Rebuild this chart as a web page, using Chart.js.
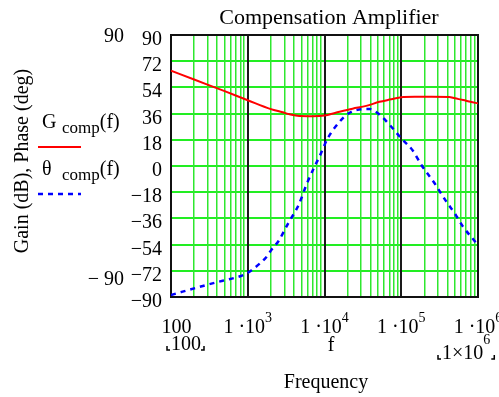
<!DOCTYPE html>
<html>
<head>
<meta charset="utf-8">
<title>Compensation Amplifier</title>
<script src="https://cdn.jsdelivr.net/npm/chart.js@4.4.0/dist/chart.umd.min.js"></script>
<style>
  html, body { margin: 0; padding: 0; background: #fff; }
  #wrap { width: 499px; height: 397px; }
</style>
</head>
<body>
<div id="wrap"><canvas id="chart" width="499" height="397"></canvas></div>
<script>
// gain of the compensation network, dB
const gainFreq = [100, 200, 500, 1000, 2000, 2850, 3500, 4700, 7000, 10000, 15700, 23200, 35000, 52000, 74000, 100000, 150000, 250000, 420000, 500000, 640000, 800000, 1000000]
const gainDb   = [65.5, 59.4, 51.4, 45.2, 39.1, 36.9, 35.5, 34.3, 34.2, 34.7, 37.3, 39.4, 41.3, 44.1, 45.8, 47.3, 47.5, 47.5, 47.4, 46.5, 45.3, 44.1, 43.0]

// phase of the compensation network, degrees
const phaseFreq = [100, 260, 473, 838, 1090, 1430, 1740, 2060, 2520, 3400, 4600, 5800, 7400, 8600, 11000, 15700, 19200, 26000, 38700, 49700, 70700, 100000, 142000, 183000, 272000, 387000, 497000, 638000, 950000, 1000000]
const phaseDeg  = [-88.6, -82.4, -78.8, -75.3, -72.1, -67.1, -62.7, -57.2, -51.5, -38.9, -26.8, -13.0, -0.5, 6.4, 19.0, 30.4, 35.0, 38.5, 39.1, 36.2, 28.2, 19.0, 10.5, 0.7, -11.9, -24.5, -32.5, -41.7, -53.1, -55.0]

const yTicks = [90, 72, 54, 36, 18, 0, -18, -36, -54, -72, -90]
const decades = [100, 1e3, 1e4, 1e5, 1e6]

const serif = '"Liberation Serif", "Times New Roman", serif'
const red = '#ff0000'
const blue = '#0000ff'

function minus(v) {
    return v < 0 ? '\u2212' + Math.abs(v) : String(v)
}

function isDecade(v) {
    return decades.indexOf(v) >= 0
}

// 1,2,...,9 per decade for the log grid
function logGrid() {
    const out = []
    for (let i = 0; i < decades.length - 1; i++) {
        for (let m = 1; m < 10; m++) out.push({ value: m * decades[i] })
    }
    out.push({ value: decades[decades.length - 1] })
    return out
}

function points(xs, ys) {
    return xs.map((x, i) => ({ x: x, y: ys[i] }))
}

// small corner marks around the range limits
function corner(ctx, x, y, left) {
    ctx.save()
    ctx.strokeStyle = '#000'
    ctx.lineWidth = 1.5
    ctx.beginPath()
    ctx.moveTo(x, y - 4)
    ctx.lineTo(x, y)
    ctx.lineTo(left ? x + 3 : x - 3, y)
    ctx.stroke()
    ctx.restore()
}

// "1·10" with a raised exponent, centred on cx
function powLabel(ctx, cx, base, exp) {
    ctx.font = '20px ' + serif
    const main = '1 \u00b710'
    const w1 = ctx.measureText(main).width
    ctx.font = '14px ' + serif
    const w2 = ctx.measureText(exp).width
    const x0 = cx - (w1 + w2) / 2
    ctx.font = '20px ' + serif
    ctx.fillText(main, x0, base)
    ctx.font = '14px ' + serif
    ctx.fillText(exp, x0 + w1, base - 11)
}

const framePlugin = {
    id: 'frame',
    beforeDatasetsDraw(chart) {
        const a = chart.chartArea
        const ctx = chart.ctx
        ctx.save()
        ctx.strokeStyle = '#111'
        ctx.lineWidth = 2
        ctx.strokeRect(a.left, a.top, a.right - a.left, a.bottom - a.top)
        ctx.restore()
    },
    afterDraw(chart) {
        const ctx = chart.ctx
        const xs = chart.scales.x
        const ys = chart.scales.y
        const a = chart.chartArea
        ctx.save()
        ctx.fillStyle = '#000'
        ctx.textBaseline = 'alphabetic'

        // title
        ctx.font = '22px ' + serif
        ctx.textAlign = 'center'
        ctx.fillText('Compensation Amplifier', 329, 24)

        // y tick labels
        ctx.font = '20px ' + serif
        ctx.textAlign = 'right'
        yTicks.forEach(v => {
            ctx.fillText(minus(v), 162, ys.getPixelForValue(v) + 10)
        })
        // axis limits
        ctx.fillText('90', 124, ys.getPixelForValue(90) + 7)
        ctx.fillText('\u2212 90', 124, ys.getPixelForValue(-90) - 12)

        // x tick labels
        ctx.textAlign = 'left'
        ctx.font = '20px ' + serif
        const w100 = ctx.measureText('100').width
        ctx.fillText('100', xs.getPixelForValue(100) + 5.5 - w100 / 2, 333)
        decades.slice(1).forEach(d => {
            powLabel(ctx, xs.getPixelForValue(d), 333, String(Math.round(Math.log10(d))))
        })

        // range limits and variable name
        ctx.font = '20px ' + serif
        const lo = a.left - 4
        corner(ctx, lo, 350, true)
        ctx.fillText('100', lo + 4, 350)
        corner(ctx, lo + 7 + w100, 350, false)

        ctx.textAlign = 'center'
        ctx.fillText('f', 331, 351)

        ctx.textAlign = 'left'
        const hi = 438
        corner(ctx, hi, 359, true)
        ctx.fillText('1\u00d710', hi + 4, 359)
        const wm = ctx.measureText('1\u00d710').width
        ctx.font = '14px ' + serif
        ctx.fillText('6', hi + 4 + wm, 344)
        const we = ctx.measureText('6').width
        corner(ctx, hi + 8 + wm + we, 359, false)

        ctx.font = '20px ' + serif
        ctx.textAlign = 'center'
        ctx.fillText('Frequency', 326, 388)

        // y axis title
        ctx.save()
        ctx.translate(28, 161)
        ctx.rotate(-Math.PI / 2)
        ctx.fillText('Gain (dB), Phase (deg)', 0, 0)
        ctx.restore()

        // legend
        ctx.textAlign = 'left'
        const entries = [
            { sym: 'G', y: 128, ds: chart.data.datasets[0] },
            { sym: '\u03b8', y: 175, ds: chart.data.datasets[1] }
        ]
        entries.forEach(e => {
            ctx.font = '20px ' + serif
            ctx.fillText(e.sym, 42, e.y)
            ctx.font = '17px ' + serif
            ctx.fillText('comp', 62, e.y + 5)
            const wc = ctx.measureText('comp').width
            ctx.font = '20px ' + serif
            ctx.fillText('(f)', 62 + wc, e.y)

            ctx.save()
            ctx.strokeStyle = e.ds.borderColor
            ctx.lineWidth = e.ds.borderWidth
            ctx.setLineDash(e.ds.borderDash || [])
            ctx.beginPath()
            ctx.moveTo(38, e.y + 19)
            ctx.lineTo(81, e.y + 19)
            ctx.stroke()
            ctx.restore()
        })
        ctx.restore()
    }
}

const chart = new Chart(document.getElementById('chart'), {
    type: 'line',
    data: {
        datasets: [
            {
                label: 'G comp(f)',
                data: points(gainFreq, gainDb),
                borderColor: red,
                borderWidth: 2,
                pointRadius: 0,
                cubicInterpolationMode: 'monotone'
            },
            {
                label: '\u03b8 comp(f)',
                data: points(phaseFreq, phaseDeg),
                borderColor: blue,
                borderWidth: 2.5,
                borderDash: [5, 5],
                pointRadius: 0,
                cubicInterpolationMode: 'monotone'
            }
        ]
    },
    options: {
        responsive: false,
        animation: false,
        layout: { padding: { left: 171, right: 21, top: 35, bottom: 100 } },
        plugins: {
            legend: { display: false },
            tooltip: { enabled: false },
            title: { display: false }
        },
        scales: {
            x: {
                type: 'logarithmic',
                min: 100,
                max: 1e6,
                afterBuildTicks: (scale) => { scale.ticks = logGrid() },
                ticks: { display: false },
                border: { display: false },
                grid: {
                    drawTicks: false,
                    color: (c) => isDecade(c.tick.value) ? '#1a1a1a' : '#2ee82e',
                    lineWidth: (c) => isDecade(c.tick.value) ? 2 : 1.5
                }
            },
            y: {
                type: 'linear',
                min: -90,
                max: 90,
                ticks: { display: false, stepSize: 18 },
                border: { display: false },
                grid: {
                    z: -2,
                    drawTicks: false,
                    color: '#22ee22',
                    lineWidth: 2
                }
            }
        }
    },
    plugins: [framePlugin]
})
</script>
</body>
</html>
